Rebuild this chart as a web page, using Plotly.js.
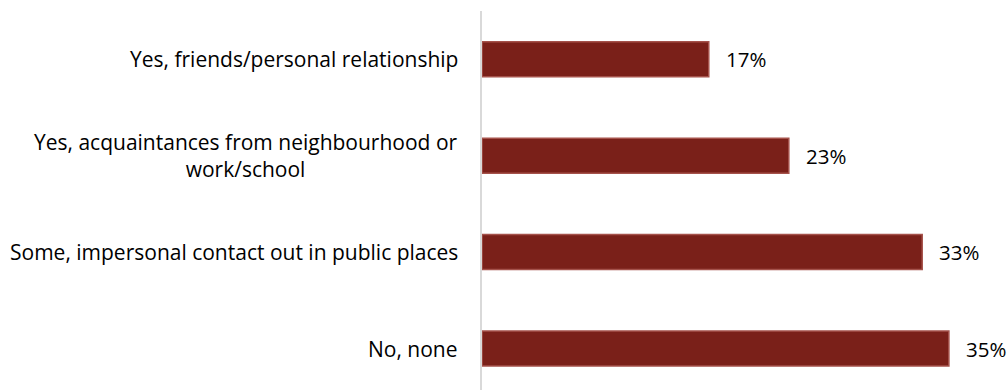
<!DOCTYPE html>
<html>
<head>
<meta charset="utf-8">
<script src="https://cdn.plot.ly/plotly-3.0.1.min.js"></script>
<style>html,body{margin:0;padding:0;background:#fff;}#chart{width:1008px;height:390px;}</style>
</head>
<body>
<div id="chart"></div>
<script>
const categories = [
  "Yes, friends/personal relationship",
  "Yes, acquaintances from neighbourhood or<br>work/school",
  "Some, impersonal contact out in public places",
  "No, none"
];
const values = [17, 23, 33, 35];
const valueLabels = ["17%", "23%", "33%", "35%"];

const FONT = "'Open Sans', 'Noto Sans', sans-serif";

const trace = {
  type: "bar",
  orientation: "h",
  y: categories,
  x: values,
  marker: {
    color: "#7a2019",
    line: {color: "#a5524b", width: 1.5}
  },
  hoverinfo: "none"
};

const annotations = [];
categories.forEach((c, i) => {
  annotations.push({
    xref: "paper", x: 0, xanchor: "right", xshift: -22,
    yref: "y", y: c, yanchor: "middle",
    text: c, showarrow: false, align: "center",
    font: {family: FONT, size: 21, color: "#000"}
  });
  annotations.push({
    xref: "x", x: values[i], xanchor: "left", xshift: 15,
    yref: "y", y: c, yanchor: "middle",
    text: valueLabels[i], showarrow: false,
    font: {family: FONT, size: 20.5, color: "#000"}
  });
});

const layout = {
  width: 1008, height: 390,
  margin: {l: 482, r: 0, t: 11, b: 0, pad: 0},
  paper_bgcolor: "#fff", plot_bgcolor: "#fff",
  showlegend: false,
  bargap: 0.637,
  xaxis: {range: [0, 39.43], showgrid: false, zeroline: false, showticklabels: false, showline: false, fixedrange: true},
  yaxis: {type: "category", categoryarray: categories, range: [3.43, -0.5], showgrid: false, zeroline: false,
          showticklabels: false, showline: true, linecolor: "#d9d9d9", linewidth: 2, ticks: ""},
  annotations: annotations
};

Plotly.newPlot("chart", [trace], layout, {displayModeBar: false, staticPlot: true});
</script>
</body>
</html>
